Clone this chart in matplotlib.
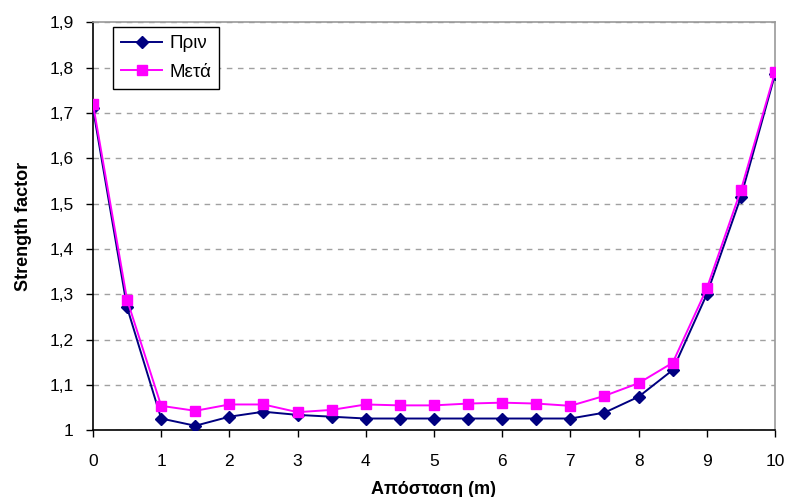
import matplotlib
matplotlib.use("Agg")
import matplotlib.pyplot as plt
from matplotlib.ticker import FuncFormatter

plt.rcParams['font.family'] = ['Liberation Sans', 'DejaVu Sans']

distance = [0, 0.5, 1, 1.5, 2, 2.5, 3, 3.5, 4, 4.5, 5, 5.5, 6, 6.5, 7, 7.5, 8, 8.5, 9, 9.5, 10]
before = [1.71, 1.271, 1.026, 1.010, 1.030, 1.041, 1.034, 1.030, 1.026, 1.026, 1.026, 1.026,
          1.026, 1.026, 1.026, 1.039, 1.074, 1.133, 1.300, 1.515, 1.785]
after = [1.72, 1.288, 1.054, 1.043, 1.057, 1.057, 1.040, 1.045, 1.057, 1.055, 1.055, 1.059,
         1.061, 1.059, 1.054, 1.076, 1.104, 1.149, 1.313, 1.530, 1.790]
label_before = "Πριν"
label_after = "Μετά"
x_ticks = list(range(0, 11))
y_ticks = [1.0, 1.1, 1.2, 1.3, 1.4, 1.5, 1.6, 1.7, 1.8, 1.9]

fig = plt.figure(figsize=(7.86, 4.97), dpi=100)
ax = fig.add_axes([0.1183, 0.1342, 0.8677, 0.8208])

ax.plot(distance, before, color="#000080", marker="D", markersize=6.5, linewidth=1.4,
        label=label_before, zorder=3)
ax.plot(distance, after, color="#FF00FF", marker="s", markersize=7, linewidth=1.4,
        label=label_after, zorder=4)

ax.set_xlim(0, 10)
ax.set_ylim(1.0, 1.9)
ax.set_xticks(x_ticks)
ax.set_yticks(y_ticks)
ax.yaxis.set_major_formatter(FuncFormatter(
    lambda v, p: ("%g" % round(v, 1)).replace(".", ",")))
ax.tick_params(axis="both", direction="out", length=5, width=1, labelsize=12.5,
               colors="black")
ax.tick_params(axis="x", pad=12)
ax.tick_params(axis="y", pad=9)

ax.grid(axis="y", linestyle=(0, (4, 4)), color="#A0A0A0", linewidth=1)
ax.set_axisbelow(True)

for side in ("left", "bottom"):
    ax.spines[side].set_color("black")
    ax.spines[side].set_linewidth(1.2)
for side in ("right", "top"):
    ax.spines[side].set_color("#999999")
    ax.spines[side].set_linewidth(1.2)

ax.set_xlabel("Απόσταση (m)", fontsize=13, fontweight="bold")
ax.set_ylabel("Strength factor", fontsize=13, fontweight="bold")
ax.xaxis.set_label_coords(0.5, -0.125)
ax.yaxis.set_label_coords(-0.09, 0.5)

leg = ax.legend(loc="upper left", bbox_to_anchor=(0.029, 0.989), fontsize=13.5,
                frameon=True, fancybox=False, edgecolor="black", framealpha=1,
                borderpad=0.45, handlelength=2.2, handletextpad=0.35,
                labelspacing=0.6, borderaxespad=0)
leg.get_frame().set_linewidth(1.0)

fig.savefig("out.png", dpi=100)
